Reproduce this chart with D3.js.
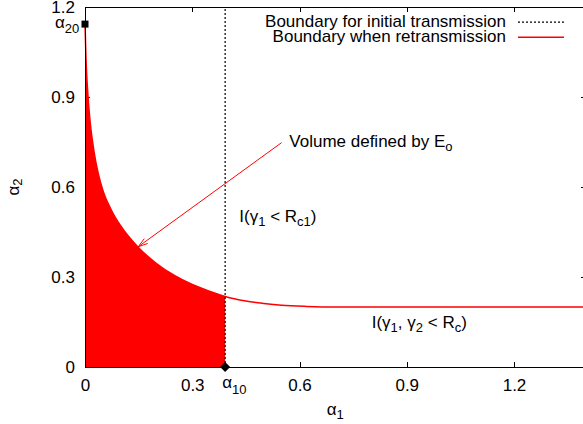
<!DOCTYPE html>
<html>
<head>
<meta charset="utf-8">
<title>Retransmission boundary</title>
<script src="https://cdn.jsdelivr.net/npm/d3@7"></script>
<style>
body { margin: 0; background: #fff; }
text { font-family: "Liberation Sans", Arial, Helvetica, sans-serif; fill: #000; }
.axis path, .axis line { stroke: #000; stroke-width: 1px; shape-rendering: crispEdges; }
</style>
</head>
<body>
<div id="chart"></div>
<script>

// boundary curve (alpha1, alpha2)
var alpha1 = [0, 0.003, 0.008, 0.015, 0.025, 0.037, 0.051, 0.075, 0.1, 0.148, 0.2, 0.25, 0.3, 0.35, 0.392, 0.45, 0.5, 0.55, 0.62, 0.7, 0.8, 1.0, 1.2, 1.4]
var alpha2 = [1.143, 1.02, 0.91, 0.81, 0.72, 0.645, 0.585, 0.52, 0.47, 0.40, 0.345, 0.305, 0.275, 0.252, 0.235, 0.22, 0.212, 0.206, 0.202, 0.2, 0.2, 0.2, 0.2, 0.2]

var alpha10 = 0.392   // initial transmission boundary
var alpha20 = 1.143

var xTicks = [0, 0.3, 0.6, 0.9, 1.2]
var yTicks = [0, 0.3, 0.6, 0.9, 1.2]

var legendLabels = ["Boundary for initial transmission", "Boundary when retransmission"]

// annotation anchors, in data units
var arrowFrom = [0.55, 0.748]
var arrowTo = [0.149, 0.401]
var volumeLabelAt = [0.5715, 0.734]
var rc1LabelAt = [0.4316, 0.4817]
var rcLabelAt = [0.802, 0.131]

var size = {width: 583, height: 424}
var fontSize = 17, subSize = 13

var svg = d3.select("#chart").append("svg")
	.attr("width", size.width)
	.attr("height", size.height)

var x = d3.scaleLinear().domain([0, 1.4]).range([85, 585.5])
var y = d3.scaleLinear().domain([0, 1.2]).range([367, 7])

var fmt = function(d) { return d === 0 ? "0" : d3.format(".1f")(d) }

// axes, ticks pointing inwards like gnuplot
svg.append("g").attr("class", "axis")
	.attr("transform", "translate(0," + y(0) + ")")
	.call(d3.axisBottom(x).tickValues(xTicks).tickSizeInner(-5).tickSizeOuter(0).tickPadding(12).tickFormat(fmt))

svg.append("g").attr("class", "axis")
	.attr("transform", "translate(0," + y(1.2) + ")")
	.call(d3.axisTop(x).tickValues(xTicks.slice(1)).tickSizeInner(-5).tickSizeOuter(0).tickFormat(""))

svg.append("g").attr("class", "axis")
	.attr("transform", "translate(" + x(0) + ",0)")
	.call(d3.axisLeft(y).tickValues(yTicks).tickSizeInner(-5).tickSizeOuter(0).tickPadding(10).tickFormat(fmt))

svg.append("g").attr("class", "axis")
	.attr("transform", "translate(" + x(1.4) + ",0)")
	.call(d3.axisRight(y).tickValues(yTicks.slice(1, 4)).tickSizeInner(-5).tickSizeOuter(0).tickFormat(""))

svg.selectAll(".axis text").style("font-size", fontSize + "px")

var points = alpha1.map(function(a, i) { return [a, alpha2[i]] })

// filled volume up to alpha10
var inside = points.filter(function(p) { return p[0] <= alpha10 })

svg.append("path")
	.datum(inside)
	.attr("fill", "#ff0000")
	.attr("d", d3.area()
		.x(function(d) { return x(d[0]) })
		.y0(y(0))
		.y1(function(d) { return y(d[1]) })
		.curve(d3.curveMonotoneX))

svg.append("path")
	.datum(points)
	.attr("fill", "none")
	.attr("stroke", "#ff0000")
	.attr("stroke-width", 1.5)
	.attr("d", d3.line()
		.x(function(d) { return x(d[0]) })
		.y(function(d) { return y(d[1]) })
		.curve(d3.curveMonotoneX))

// initial transmission boundary
svg.append("line")
	.attr("x1", x(alpha10)).attr("x2", x(alpha10))
	.attr("y1", y(0)).attr("y2", y(1.2))
	.attr("stroke", "#000")
	.attr("stroke-width", 1.2)
	.attr("stroke-dasharray", "2,2")

// left border back on top of the fill
svg.append("line")
	.attr("x1", x(0)).attr("x2", x(0))
	.attr("y1", y(0)).attr("y2", y(1.2))
	.attr("stroke", "#000")
	.style("shape-rendering", "crispEdges")

// markers
svg.append("rect")
	.attr("x", x(0) - 3.5).attr("y", y(alpha20) - 3.5)
	.attr("width", 7).attr("height", 7)
	.attr("fill", "#000")

svg.append("path")
	.attr("transform", "translate(" + x(alpha10) + "," + y(0) + ")")
	.attr("d", "M0,-5L5,0L0,5L-5,0Z")
	.attr("fill", "#000")

// alpha labels
var a20 = svg.append("text")
	.attr("x", x(0) - 30).attr("y", y(alpha20) + 4)
	.style("font-size", fontSize + "px")
a20.append("tspan").text("α")
a20.append("tspan").attr("dy", 5).style("font-size", subSize + "px").text("20")

var a10 = svg.append("text")
	.attr("x", x(alpha10) - 3).attr("y", y(0) + 21)
	.style("font-size", fontSize + "px")
a10.append("tspan").text("α")
a10.append("tspan").attr("dy", 6).style("font-size", subSize + "px").text("10")

var xt = svg.append("text")
	.attr("x", (x.range()[0] + x.range()[1]) / 2).attr("y", 415)
	.attr("text-anchor", "middle")
	.style("font-size", fontSize + "px")
xt.append("tspan").text("α")
xt.append("tspan").attr("dy", 4).style("font-size", subSize + "px").text("1")

var yt = svg.append("text")
	.attr("transform", "translate(18.5," + (y.range()[0] + y.range()[1]) / 2 + ") rotate(-90)")
	.attr("text-anchor", "middle")
	.style("font-size", fontSize + "px")
yt.append("tspan").text("α")
yt.append("tspan").attr("dy", 3).style("font-size", subSize + "px").text("2")

// legend
var legend = svg.append("g")
legendLabels.forEach(function(label, i) {
	var ly = 26.7 + i * 15
	legend.append("text")
		.attr("x", 506).attr("y", ly)
		.attr("text-anchor", "end")
		.style("font-size", fontSize + "px")
		.text(label)
	legend.append("line")
		.attr("x1", 518).attr("x2", 564)
		.attr("y1", ly - 4.5).attr("y2", ly - 4.5)
		.attr("stroke", i == 0 ? "#000" : "#ff0000")
		.attr("stroke-width", i == 0 ? 1.2 : 1.5)
		.attr("stroke-dasharray", i == 0 ? "2,2" : null)
})

// arrow to the filled volume
var ax1 = x(arrowFrom[0]), ay1 = y(arrowFrom[1])
var ax2 = x(arrowTo[0]), ay2 = y(arrowTo[1])
var ang = Math.atan2(ay1 - ay2, ax1 - ax2)
var head = 10, spread = 0.3

svg.append("path")
	.attr("fill", "none")
	.attr("stroke", "#ff0000")
	.attr("stroke-width", 1)
	.attr("d", "M" + ax1 + "," + ay1 + "L" + ax2 + "," + ay2 +
		"M" + (ax2 + head * Math.cos(ang + spread)) + "," + (ay2 + head * Math.sin(ang + spread)) +
		"L" + ax2 + "," + ay2 +
		"L" + (ax2 + head * Math.cos(ang - spread)) + "," + (ay2 + head * Math.sin(ang - spread)))

var vol = svg.append("text")
	.attr("x", x(volumeLabelAt[0])).attr("y", y(volumeLabelAt[1]))
	.style("font-size", fontSize + "px")
vol.append("tspan").text("Volume defined by E")
vol.append("tspan").attr("dy", 4).style("font-size", subSize + "px").text("o")

var rc1 = svg.append("text")
	.attr("x", x(rc1LabelAt[0])).attr("y", y(rc1LabelAt[1]))
	.style("font-size", fontSize + "px")
rc1.append("tspan").text("I(γ")
rc1.append("tspan").attr("dy", 4).style("font-size", subSize + "px").text("1")
rc1.append("tspan").attr("dy", -4).text(" < R")
rc1.append("tspan").attr("dy", 4).style("font-size", subSize + "px").text("c1")
rc1.append("tspan").attr("dy", -4).text(")")

var rc = svg.append("text")
	.attr("x", x(rcLabelAt[0])).attr("y", y(rcLabelAt[1]))
	.style("font-size", fontSize + "px")
rc.append("tspan").text("I(γ")
rc.append("tspan").attr("dy", 4).style("font-size", subSize + "px").text("1")
rc.append("tspan").attr("dy", -4).text(", γ")
rc.append("tspan").attr("dy", 4).style("font-size", subSize + "px").text("2")
rc.append("tspan").attr("dy", -4).text(" < R")
rc.append("tspan").attr("dy", 4).style("font-size", subSize + "px").text("c")
rc.append("tspan").attr("dy", -4).text(")")

</script>
</body>
</html>
